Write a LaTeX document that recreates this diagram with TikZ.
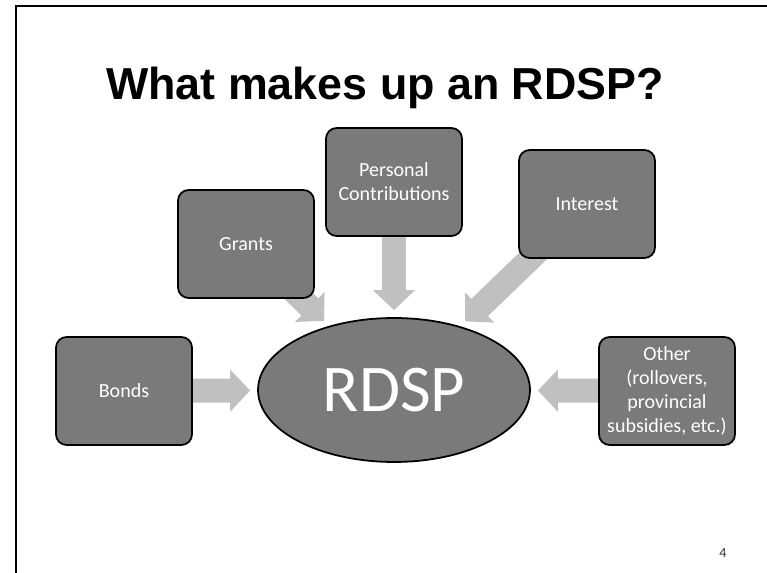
\documentclass[tikz,border=0pt]{standalone}
\usepackage{fontspec}
\setmainfont{Carlito}
\newfontfamily\titlefont{Liberation Sans}
\definecolor{slidegray}{RGB}{122,122,122}
\definecolor{feedgray}{RGB}{192,192,192}
\usetikzlibrary{arrows.meta,shapes.geometric,backgrounds}

\begin{document}
\begin{tikzpicture}[x=0.02cm,y=-0.02cm,
      srcbox/.style={rectangle,rounded corners=6pt,draw=black,line width=1pt,
                     fill=slidegray,text=white,align=center,
                     minimum width=2.72cm,minimum height=2.16cm,
                     font=\fontsize{11.4}{13.8}\selectfont},
      hub/.style={ellipse,draw=black,line width=1pt,fill=slidegray,text=white,
                  minimum width=5.44cm,minimum height=2.88cm,inner sep=0pt,
                  font=\fontsize{38}{46}\selectfont},
      feed/.style={draw=feedgray,line width=0.48cm,
                   -{Triangle[length=0.4cm,width=0.82cm]},shorten >=0.14cm}]
    \useasboundingbox (0,0) rectangle (767,573);
    \draw[line width=1.2pt] (16,573) -- (16,6) -- (767,6);
    \node[font={\titlefont\bfseries\fontsize{25.5}{30}\selectfont},anchor=base]
      (title) at (385,100) {What makes up an RDSP?};
    % sources around the plan
    \node[hub] (rdsp) at (394,390) {RDSP};
    \node[srcbox] (bonds) at (124,391) {Bonds};
    \node[srcbox] (grants) at (246,244) {Grants};
    \node[srcbox] (personal) at (394,182) {Personal\\Contributions};
    \node[srcbox] (interest) at (587,204) {Interest};
    \node[srcbox] (other) at (667,391) {Other\\(rollovers,\\provincial\\subsidies, etc.)};
    \node[font=\fontsize{8}{9}\selectfont,text=black!80] (pagenum) at (723,553) {4};
    \begin{scope}[on background layer]
      \foreach \src in {bonds,grants,personal,interest,other}
        \draw[feed] (\src.center) -- (rdsp);
    \end{scope}
\end{tikzpicture}
\end{document}
